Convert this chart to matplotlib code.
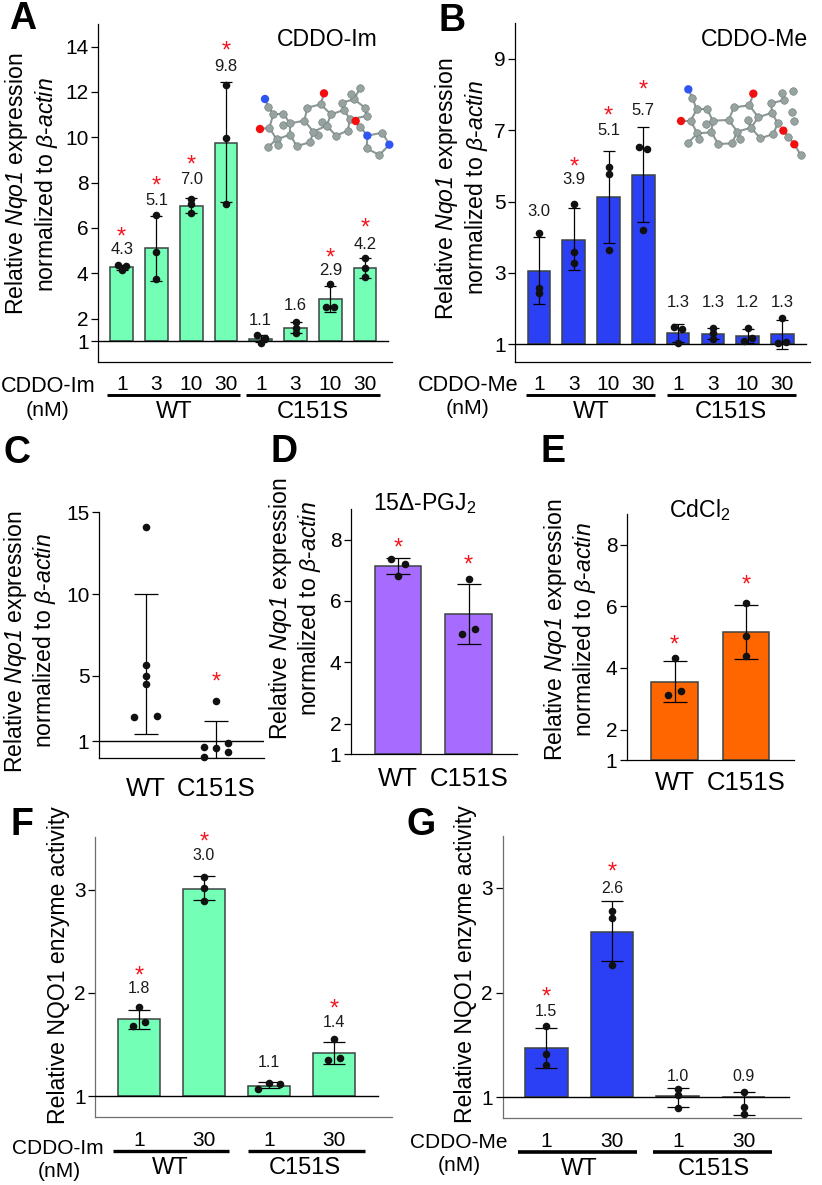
import matplotlib
matplotlib.use('Agg')
import matplotlib.pyplot as plt
from matplotlib.lines import Line2D
import numpy as np

plt.rcParams['font.family'] = ['Liberation Sans', 'DejaVu Sans']
plt.rcParams['mathtext.fontset'] = 'custom'
plt.rcParams['mathtext.rm'] = 'Liberation Sans'
plt.rcParams['mathtext.cal'] = 'Liberation Sans:italic'
plt.rcParams['mathtext.default'] = 'regular'

W, H = 822, 1185
GREEN = '#73FFB6'
BLUE = '#2B40F5'
PURPLE = '#A76CFF'
ORANGE = '#FF6600'
RED = '#F5141E'
EDGE = '#3c4442'

NQO1_L1 = 'Relative $\\mathcal{Nqo1}$ expression'
NQO1_L2 = 'normalized to $\\mathcal{β}$-$\\mathcal{actin}$'
ENZ_LABEL = 'Relative NQO1 enzyme activity'
doses4 = ['1', '3', '10', '30', '1', '3', '10', '30']
doses2 = ['1', '30', '1', '30']
genotypes = ['WT', 'C151S']

# Panel A
a_bars = [4.28, 5.1, 6.97, 9.77, 1.1, 1.58, 2.87, 4.22]
a_low = [4.15, 3.68, 6.65, 7.13, 0.97, 1.35, 2.28, 3.81]
a_high = [4.38, 6.53, 7.31, 12.43, 1.28, 1.85, 3.46, 4.66]
a_points = [[4.35, 4.15, 4.32], [6.57, 4.96, 3.77], [7.27, 7.06, 6.65], [12.33, 9.96, 7.06],
            [1.28, 1.13, 0.94], [1.87, 1.57, 1.35], [3.52, 2.53, 2.53], [4.66, 4.25, 3.84]]
a_jitter = [[-.12, 0, .12], [0, 0, 0], [0, 0, 0], [0, 0, 0],
            [-.12, .11, 0], [0, 0, 0], [0, -.115, .115], [0, 0, 0]]
a_labels = ['4.3', '5.1', '7.0', '9.8', '1.1', '1.6', '2.9', '4.2']
a_label_y = [5.06, 7.22, 8.12, 13.12, 1.90, 2.60, 4.12, 5.28]
a_star_y = [5.77, 8.0, 8.93, 13.96, None, None, 4.82, 6.16]

# Panel B
b_bars = [3.04, 3.93, 5.12, 5.73, 1.32, 1.30, 1.23, 1.28]
b_low = [2.12, 3.07, 3.85, 4.42, 1.07, 1.14, 1.03, 0.88]
b_high = [4.0, 4.81, 6.42, 7.08, 1.58, 1.47, 1.43, 1.68]
b_points = [[4.13, 2.59, 2.43], [4.92, 3.6, 3.29], [5.98, 5.76, 3.64], [6.54, 6.48, 4.2],
            [1.49, 1.43, 1.05], [1.45, 1.31, 1.16], [1.45, 1.09, 1.18], [1.75, 1.05, 1.07]]
b_jitter = [[0, 0, 0], [0, 0, 0], [0, 0, 0], [-.115, .115, 0],
            [-.115, .115, 0], [0, 0, 0], [0, -.115, .115], [0, -.115, .12]]
b_labels = ['3.0', '3.9', '5.1', '5.7', '1.3', '1.3', '1.2', '1.3']
b_label_y = [4.73, 5.62, 7.0, 7.56, 2.17, 2.17, 2.17, 2.17]
b_star_y = [None, 6.07, 7.49, 8.23, None, None, None, None]

# Panel C
c_mean = [5.7, 1.1]
c_low = [1.43, 0.0]
c_high = [10.02, 2.27]
c_points = [[14.08, 5.65, 5.0, 4.49, 2.51, 2.55], [3.49, 0.67, 0.59, 0.88, 0.06, 0.33]]
c_jitter = [[0, 0, 0, 0, -.165, .165], [0, -.17, 0, .17, -.17, .17]]
c_star_y = [None, 4.86]

# Panel D
d_bars = [7.13, 5.57]
d_low = [6.87, 4.59]
d_high = [7.41, 6.55]
d_points = [[7.37, 7.22, 6.83], [6.71, 4.93, 5.08]]
d_jitter = [[-.1, .09, 0], [0, -.09, .09]]
d_star_y = [7.85, 7.29]

# Panel E
e_bars = [3.54, 5.17]
e_low = [2.89, 4.30]
e_high = [4.21, 6.04]
e_points = [[4.31, 3.11, 3.24], [6.11, 5.04, 4.38]]
e_jitter = [[0, -.09, .09], [0, 0, 0]]
e_star_y = [4.85, 6.8]

# Panel F
f_bars = [1.75, 3.01, 1.10, 1.42]
f_low = [1.65, 2.90, 1.08, 1.31]
f_high = [1.84, 3.13, 1.14, 1.53]
f_points = [[1.86, 1.72, 1.68], [3.12, 3.02, 2.89], [1.13, 1.12, 1.07], [1.55, 1.37, 1.35]]
f_jitter = [[0, .09, -.09], [0, 0, 0], [0, .16, -.17], [0, .09, -.09]]
f_labels = ['1.8', '3.0', '1.1', '1.4']
f_label_y = [2.04, 3.33, 1.33, 1.71]
f_star_y = [2.20, 3.50, None, 1.88]

# Panel G
g_bars = [1.47, 2.58, 1.01, 1.0]
g_low = [1.28, 2.30, 0.91, 0.83]
g_high = [1.66, 2.87, 1.09, 1.05]
g_points = [[1.68, 1.41, 1.31], [2.78, 2.71, 2.26], [1.08, 1.02, 0.90], [1.05, 0.91, 0.84]]
g_jitter = [[0, 0, 0], [0, 0, 0], [0, 0, 0], [0, 0, 0]]
g_labels = ['1.5', '2.6', '1.0', '0.9']
g_label_y = [1.82, 2.99, 1.20, 1.20]
g_star_y = [1.99, 3.18, None, None]

# Molecules, atom positions in a 450x255 sketch box
im_atoms_x = [45, 55, 70, 100, 58, 30, 120, 100, 120, 80, 53, 85, 140, 180, 190, 163, 172, 212, 222, 243,
              230, 215, 205, 258, 293, 300, 282, 275, 303, 312, 330, 345, 350, 317, 330, 352, 397, 418, 388, 350]
im_atoms_y = [57, 80, 103, 101, 143, 147, 130, 134, 164, 178, 202, 196, 198, 187, 155, 122, 83, 73, 40, 103,
              137, 125, 165, 167, 152, 118, 90, 68, 43, 58, 25, 83, 108, 123, 140, 167, 158, 194, 225, 205]
im_kinds = 'NCCCCOCCCCCCCCCCCCOCCCCCCCCCCCCCCOCNCNCC'
im_bonds = [(0, 1), (1, 2), (2, 3), (2, 4), (4, 5), (3, 6), (4, 9), (6, 7), (6, 8), (8, 9), (9, 10), (9, 11),
            (8, 12), (12, 13), (13, 14), (14, 15), (6, 15), (15, 16), (16, 17), (17, 18), (17, 19), (19, 20),
            (20, 14), (20, 21), (14, 22), (20, 23), (23, 24), (24, 25), (19, 26), (26, 25), (26, 27), (27, 29),
            (29, 28), (29, 30), (29, 31), (31, 32), (32, 25), (25, 33), (25, 34), (33, 34), (34, 35), (35, 36),
            (36, 37), (37, 38), (38, 39), (39, 35)]
me_atoms_x = [55, 67, 80, 112, 62, 33, 128, 107, 124, 82, 55, 87, 145, 186, 202, 176, 192, 238, 250, 265,
              243, 235, 210, 271, 310, 323, 306, 303, 336, 343, 370, 366, 373, 340, 355, 373, 392]
me_atoms_y = [28, 53, 88, 88, 123, 123, 122, 133, 157, 160, 188, 177, 192, 190, 155, 120, 82, 76, 41, 112,
              143, 120, 178, 175, 162, 130, 98, 70, 40, 60, 32, 95, 122, 152, 170, 193, 225]
me_kinds = 'NCCCCOCCCCCCCCCCCCOCCCCCCCCCCCCCCOCOC'
me_bonds = im_bonds[:33] + [(33, 34), (34, 35), (35, 36)]

fig = plt.figure(figsize=(W / 100, H / 100), dpi=100)


def fig_text(x, y, s, **kw):
    kw.setdefault('ha', 'center')
    kw.setdefault('va', 'center')
    fig.text(x / W, 1 - y / H, s, **kw)


def group_line(x0, x1, y, lw=2.1):
    fig.add_artist(Line2D([x0 / W, x1 / W], [1 - y / H] * 2, color='k', lw=lw, solid_capstyle='butt'))


def make_axes(box, c0, dx, ylim, yticks, xlabels, pad, xsize, hline_end=None, spine_col='k'):
    l, t, r, b = box
    ax = fig.add_axes([l / W, 1 - b / H, (r - l) / W, (b - t) / H])
    ax.patch.set_alpha(0)
    ax.set_xlim((l - c0) / dx, (r - c0) / dx)
    ax.set_ylim(ylim)
    ax.spines[['top', 'right']].set_visible(False)
    ax.spines[['left', 'bottom']].set_linewidth(0.9)
    ax.spines[['left', 'bottom']].set_color(spine_col)
    ax.set_yticks(yticks)
    ax.tick_params(axis='y', length=5, width=0.9, labelsize=15, pad=2)
    ax.set_xticks(range(len(xlabels)), xlabels)
    ax.tick_params(axis='x', length=0, labelsize=xsize, pad=pad)
    if hline_end is not None:
        ax.plot([ax.get_xlim()[0], (hline_end - c0) / dx], [1, 1], color='k', lw=1.0, zorder=3)
    return ax


def draw_bars(ax, bars, color, width):
    x = np.arange(len(bars))
    ax.bar(x, np.array(bars) - 1, bottom=1, width=width, color=color, edgecolor=EDGE, linewidth=1.1, zorder=2)


def draw_errs(ax, mean, low, high, cap):
    x = np.arange(len(mean))
    mean = np.array(mean)
    yerr = [mean - np.array(low), np.array(high) - mean]
    ax.errorbar(x, mean, yerr=yerr, fmt='none', ecolor='k', elinewidth=0.9, capsize=cap, capthick=0.9, zorder=4)


def draw_points(ax, points, jitter):
    for i, (ys, js) in enumerate(zip(points, jitter)):
        ax.scatter(i + np.array(js), ys, s=30, color='#111111', linewidths=0, zorder=5, clip_on=False)


def draw_notes(ax, labels, label_y, star_y, size=12):
    if labels:
        for i, (s, y) in enumerate(zip(labels, label_y)):
            ax.text(i, y, s, ha='center', va='center', fontsize=size, color='#1a1a1a')
    for i, y in enumerate(star_y):
        if y is not None:
            ax.annotate('*', (i, y), xytext=(0, -3), textcoords='offset points', ha='center', va='center',
                        fontsize=17, color=RED)


def ylabel_pair(x1, x2, y1, y2):
    fig_text(x1, y1, NQO1_L1, rotation=90, fontsize=16.6)
    fig_text(x2, y2, NQO1_L2, rotation=90, fontsize=16.6)


def molecule(box, xs, ys, kinds, bonds):
    l, t, r, b = box
    ax = fig.add_axes([l / W, 1 - b / H, (r - l) / W, (b - t) / H])
    ax.set_xlim(0, 450)
    ax.set_ylim(255, 0)
    ax.axis('off')
    for i, j in bonds:
        ax.plot([xs[i], xs[j]], [ys[i], ys[j]], color='#8c9896', lw=1.5, zorder=1)
    atom_col = {'C': '#97a3a1', 'O': '#F20F0F', 'N': '#2F55F5'}
    for i in np.argsort([k != 'C' for k in kinds]):
        ax.scatter(xs[i], ys[i], s=30 if kinds[i] == 'C' else 36, color=atom_col[kinds[i]],
                   edgecolors='#6f7a78' if kinds[i] == 'C' else 'none', linewidths=0.4, zorder=2)


# A
ax = make_axes((98.3, 24, 392, 362.3), 121.7, 34.76, (0.073, 15.0), [1, 2, 4, 6, 8, 10, 12, 14], doses4, 9, 15, 388)
draw_bars(ax, a_bars, GREEN, 0.65)
draw_errs(ax, a_bars, a_low, a_high, 4.3)
draw_points(ax, a_points, a_jitter)
draw_notes(ax, a_labels, a_label_y, a_star_y)
ylabel_pair(16.7, 46, 184, 185)
fig_text(327, 40, 'CDDO-Im', fontsize=16.6)
fig_text(48, 386.7, 'CDDO-Im', fontsize=15.6)
fig_text(48, 410, '(nM)', fontsize=15.4)
group_line(106.7, 240, 395.3)
group_line(246, 380, 395.3)
fig_text(174, 412, 'WT', fontsize=17)
fig_text(313, 412, 'C151S', fontsize=17)
fig_text(22.7, 19, 'A', fontsize=27, fontweight='bold')
molecule((250, 80, 400, 165), im_atoms_x, im_atoms_y, im_kinds, im_bonds)

# B
ax = make_axes((515.3, 22.7, 810, 362.3), 539, 34.76, (0.496, 10.01), [1, 3, 5, 7, 9], doses4, 9, 15, 806)
draw_bars(ax, b_bars, BLUE, 0.65)
draw_errs(ax, b_bars, b_low, b_high, 4.3)
draw_points(ax, b_points, b_jitter)
draw_notes(ax, b_labels, b_label_y, b_star_y)
ylabel_pair(446, 476, 189, 187.5)
fig_text(754, 40, 'CDDO-Me', fontsize=16.6)
fig_text(468, 385.7, 'CDDO-Me', fontsize=15.6)
fig_text(468, 409, '(nM)', fontsize=15.4)
group_line(526.3, 655, 395)
group_line(667, 796, 395)
fig_text(591, 411.7, 'WT', fontsize=17)
fig_text(731, 411.7, 'C151S', fontsize=17)
fig_text(451.7, 20.7, 'B', fontsize=27, fontweight='bold')
molecule((670, 80, 820, 165), me_atoms_x, me_atoms_y, me_kinds, me_bonds)

# C
ax = make_axes((99.2, 512.3, 264, 757.7), 145.8, 70.5, (0, 15), [1, 5, 10, 15], genotypes, 14, 18.5, 264)
draw_errs(ax, c_mean, c_low, c_high, 8.3)
draw_points(ax, c_points, c_jitter)
draw_notes(ax, None, None, c_star_y)
ylabel_pair(16, 45, 641.7, 641)
fig_text(17, 452.7, 'C', fontsize=27, fontweight='bold')

# D
ax = make_axes((351, 509, 517, 754.3), 398.2, 70.5, (1, 9), [1, 2, 4, 6, 8], genotypes, 9, 18.5)
draw_bars(ax, d_bars, PURPLE, 0.66)
draw_errs(ax, d_bars, d_low, d_high, 8.6)
draw_points(ax, d_points, d_jitter)
draw_notes(ax, None, None, d_star_y)
ylabel_pair(280, 309, 609, 609)
fig_text(425, 504, '15Δ-PGJ$_2$', fontsize=16.6)
fig_text(284, 452, 'D', fontsize=27, fontweight='bold')

# E
ax = make_axes((627, 514, 793.7, 760.3), 674.5, 71.5, (1, 9), [1, 2, 4, 6, 8], genotypes, 8, 18.5)
draw_bars(ax, e_bars, ORANGE, 0.65)
draw_errs(ax, e_bars, e_low, e_high, 8.6)
draw_points(ax, e_points, e_jitter)
draw_notes(ax, None, None, e_star_y)
ylabel_pair(555, 585, 630, 630)
fig_text(700, 510, 'CdCl$_2$', fontsize=16.6)
fig_text(552.5, 452, 'E', fontsize=27, fontweight='bold')

# F
ax = make_axes((95.4, 837.3, 392.4, 1117), 138.9, 65.1, (0.8, 3.506), [1, 2, 3], doses2, 10, 15, 378, '#6e6e6e')
draw_bars(ax, f_bars, GREEN, 0.65)
draw_errs(ax, f_bars, f_low, f_high, 7.6)
draw_points(ax, f_points, f_jitter)
draw_notes(ax, f_labels, f_label_y, f_star_y, size=11.5)
fig_text(58, 965, ENZ_LABEL, rotation=90, fontsize=16.6)
fig_text(58, 1149, 'CDDO-Im', fontsize=15)
fig_text(59, 1171.7, '(nM)', fontsize=15)
group_line(113, 229, 1151, 2.4)
group_line(248, 365, 1151, 2.4)
fig_text(170.7, 1167.7, 'WT', fontsize=17)
fig_text(305, 1167.7, 'C151S', fontsize=17)
fig_text(22, 825, 'F', fontsize=27, fontweight='bold')

# G
ax = make_axes((502.7, 835.7, 800.6, 1117.7), 546.1, 65.9, (0.806, 3.496), [1, 2, 3], doses2, 10, 15, 789, '#6e6e6e')
draw_bars(ax, g_bars, BLUE, 0.65)
draw_errs(ax, g_bars, g_low, g_high, 7.6)
draw_points(ax, g_points, g_jitter)
draw_notes(ax, g_labels, g_label_y, g_star_y, size=11.5)
fig_text(465.5, 964, ENZ_LABEL, rotation=90, fontsize=16.6)
fig_text(459, 1142, 'CDDO-Me', fontsize=15)
fig_text(459, 1165.7, '(nM)', fontsize=15)
group_line(517.5, 636.8, 1152, 2.6)
group_line(652.7, 772, 1152, 2.6)
fig_text(579.5, 1169, 'WT', fontsize=17)
fig_text(714, 1169, 'C151S', fontsize=17)
fig_text(421.5, 825, 'G', fontsize=27, fontweight='bold')

fig.savefig('out.png', dpi=100)
